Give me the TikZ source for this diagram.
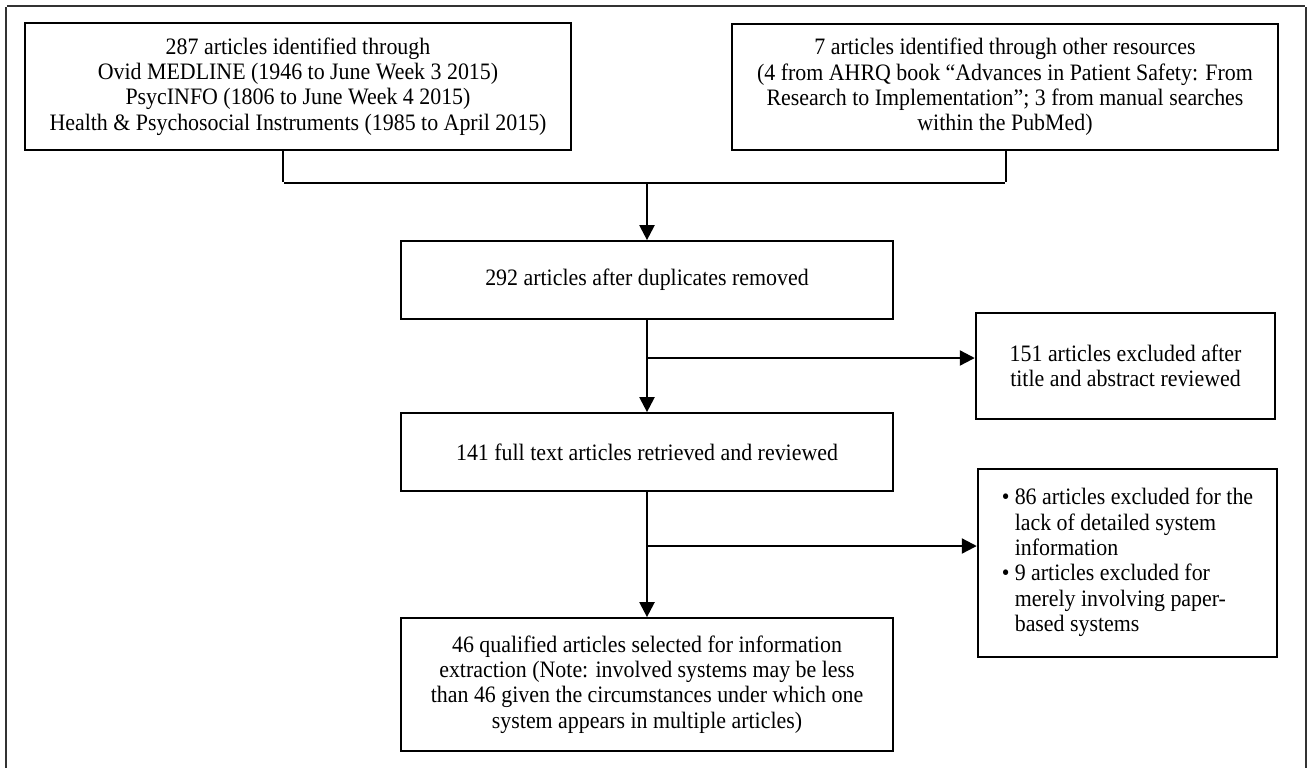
\documentclass[tikz,border=0pt]{standalone}
\usepackage{fontspec}
\setmainfont{Liberation Serif}[FakeStretch=0.93]
\usepackage{tikz}
\usetikzlibrary{arrows.meta}
\pgfdeclarelayer{edgelayer}
\pgfdeclarelayer{nodelayer}
\pgfsetlayers{edgelayer,nodelayer,main}
\tikzstyle{none}=[inner sep=0pt]
\tikzstyle{record}=[rectangle,fill=white,draw=black,line width=1pt,align=center,inner sep=0pt,font=\fontsize{13.4}{14.4}\selectfont]
\tikzstyle{flow}=[->, >={Triangle[length=0.3cm,width=0.3cm]}, line width=1.3pt]
\tikzstyle{link}=[-, line width=1.3pt]
\tikzstyle{frame}=[-, line width=1pt, draw=black!80]

\begin{document}
\begin{tikzpicture}[execute at begin picture={\fontsize{13.4}{14.4}\selectfont}]
	\useasboundingbox (0, 0) rectangle (26.18, -15.38);
	\begin{pgfonlayer}{nodelayer}
		\node [style=record, minimum width=10.92cm, minimum height=2.54cm] (0) at (5.96, -1.73) {287 articles identified through\\Ovid MEDLINE (1946 to June Week 3 2015)\\PsycINFO (1806 to June Week 4 2015)\\Health \& Psychosocial Instruments (1985 to April 2015)};
		\node [style=record, minimum width=10.92cm, minimum height=2.52cm] (1) at (20.10, -1.74) {7 articles identified through other resources\\(4 from AHRQ book “Advances in Patient Safety: From\\Research to Implementation”; 3 from manual searches\\within the PubMed)};
		\node [style=record, minimum width=9.84cm, minimum height=1.56cm] (2) at (12.94, -5.60) {292 articles after duplicates removed};
		\node [style=record, minimum width=9.84cm, minimum height=1.56cm] (3) at (12.94, -9.04) {141 full text articles retrieved and reviewed};
		\node [style=record, minimum width=9.84cm, minimum height=2.66cm] (4) at (12.94, -13.69) {46 qualified articles selected for information\\extraction (Note: involved systems may be less\\than 46 given the circumstances under which one\\system appears in multiple articles)};
		\node [style=record, minimum width=5.98cm, minimum height=2.12cm] (5) at (22.51, -7.32) {151 articles excluded after\\title and abstract reviewed};
		\node [style=record, minimum width=5.98cm, minimum height=3.76cm] (6) at (22.55, -11.26) {\begin{tabular}{@{}l@{\hspace{3pt}}l@{}}
			\textbullet & 86 articles excluded for the\\
			 & lack of detailed system\\
			 & information\\
			\textbullet & 9 articles excluded for\\
			 & merely involving paper-\\
			 & based systems
		\end{tabular}};
		\node [style=none] (7) at (5.66, -3.00) {};
		\node [style=none] (8) at (5.66, -3.66) {};
		\node [style=none] (9) at (20.12, -3.66) {};
		\node [style=none] (10) at (20.12, -3.00) {};
		\node [style=none] (11) at (12.94, -3.66) {};
		\node [style=none] (12) at (12.94, -7.16) {};
		\node [style=none] (13) at (19.52, -7.16) {};
		\node [style=none] (14) at (12.94, -10.92) {};
		\node [style=none] (15) at (19.56, -10.92) {};
		\node [style=none] (16) at (0.12, -15.38) {};
		\node [style=none] (17) at (0.12, -0.12) {};
		\node [style=none] (18) at (26.12, -0.12) {};
		\node [style=none] (19) at (26.12, -15.38) {};
	\end{pgfonlayer}
	\begin{pgfonlayer}{edgelayer}
		\draw [style=frame] (16) to (17) to (18) to (19);
		\draw [style=link] (7) to (8) to (9) to (10);
		\draw [style=flow] (11) to (2);
		\draw [style=flow] (2) to (3);
		\draw [style=flow] (12) to (13);
		\draw [style=flow] (3) to (4);
		\draw [style=flow] (14) to (15);
	\end{pgfonlayer}
\end{tikzpicture}
\end{document}
